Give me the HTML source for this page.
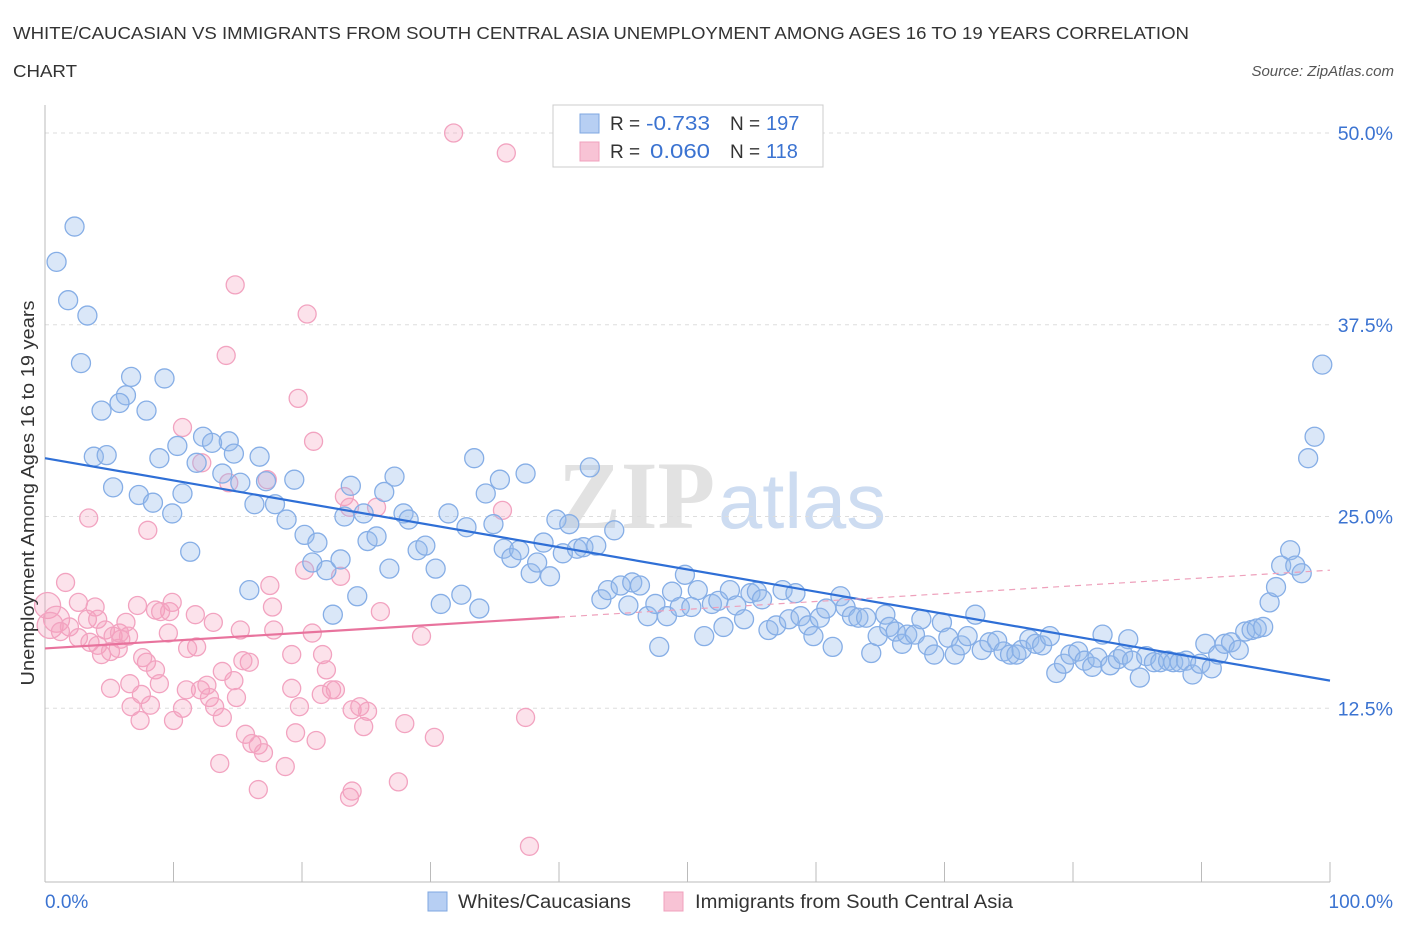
<!DOCTYPE html>
<html><head><meta charset="utf-8"><style>
body{margin:0;background:#fff;width:1406px;height:930px;overflow:hidden;font-family:"Liberation Sans",sans-serif}
svg{display:block}
</style></head><body>
<svg id="chart" width="1406" height="930" xmlns="http://www.w3.org/2000/svg">
<text x="13" y="39" font-size="17.5" fill="#333" textLength="1176" lengthAdjust="spacingAndGlyphs">WHITE/CAUCASIAN VS IMMIGRANTS FROM SOUTH CENTRAL ASIA UNEMPLOYMENT AMONG AGES 16 TO 19 YEARS CORRELATION</text>
<text x="13" y="77" font-size="17.5" fill="#333" textLength="64" lengthAdjust="spacingAndGlyphs">CHART</text>
<text x="1394" y="76" font-size="15" fill="#555" font-style="italic" text-anchor="end">Source: ZipAtlas.com</text>
<g>
<text x="558" y="528" font-size="96" fill="#e2e2e2" font-family="Liberation Serif,serif" font-weight="bold" textLength="157" lengthAdjust="spacingAndGlyphs">ZIP</text>
<text x="718" y="528" font-size="78" fill="#cddcf1" textLength="168" lengthAdjust="spacingAndGlyphs">atlas</text>
</g>
<g id="grid"></g>
<g id="axes"></g>
<g id="pinkPts"></g>
<g id="bluePts"></g>
<g id="lines"></g>
<g>
<rect x="553" y="105" width="270" height="62" fill="#fff" stroke="#ccc"/>
<rect x="580" y="114" width="19" height="19" fill="#b7cff3" stroke="#7fa7e0"/>
<rect x="580" y="142" width="19" height="19" fill="#f8c3d5" stroke="#f0a0bd"/>
<text x="610" y="130" font-size="19" fill="#333">R =</text>
<text x="646" y="130" font-size="20" fill="#3b73d1" textLength="64" lengthAdjust="spacingAndGlyphs">-0.733</text>
<text x="730" y="130" font-size="19" fill="#333">N =</text>
<text x="766" y="130" font-size="20" fill="#3b73d1">197</text>
<text x="610" y="158" font-size="19" fill="#333">R =</text>
<text x="650" y="158" font-size="20" fill="#3b73d1" textLength="60" lengthAdjust="spacingAndGlyphs">0.060</text>
<text x="730" y="158" font-size="19" fill="#333">N =</text>
<text x="766" y="158" font-size="20" fill="#3b73d1">118</text>
</g>
<g>
<rect x="428" y="892" width="19" height="19" fill="#b7cff3" stroke="#7fa7e0"/>
<text x="458" y="908" font-size="19" fill="#333" textLength="173" lengthAdjust="spacingAndGlyphs">Whites/Caucasians</text>
<rect x="664" y="892" width="19" height="19" fill="#f8c3d5" stroke="#f0a0bd"/>
<text x="695" y="908" font-size="19" fill="#333" textLength="318" lengthAdjust="spacingAndGlyphs">Immigrants from South Central Asia</text>
</g>
<text transform="translate(34,493) rotate(-90)" font-size="18" fill="#333" text-anchor="middle" textLength="385" lengthAdjust="spacingAndGlyphs">Unemployment Among Ages 16 to 19 years</text>
<text x="45" y="908" font-size="19" fill="#3b73d1">0.0%</text>
<text x="1393" y="908" font-size="19" fill="#3b73d1" text-anchor="end">100.0%</text>
</svg>
<script>
const yTicks=[12.5,25,37.5,50];
const yTickLabels=["12.5%","25.0%","37.5%","50.0%"];
const blueX=[2.3,0.9,1.8,3.3,2.8,6.7,9.3,6.3,5.8,4.4,7.9,3.8,4.8,5.3,8.9,12.3,14.3,10.3,13.0,10.7,11.8,14.7,16.7,13.8,15.2,7.3,8.4,9.9,16.3,17.9,17.2,19.4,18.8,20.2,21.2,20.8,21.9,11.3,15.9,22.4,23.0,23.3,23.8,24.8,25.1,25.8,26.4,27.2,24.3,26.8,27.9,28.3,29.0,29.6,30.4,30.8,31.4,32.4,32.8,33.4,33.8,34.3,34.9,35.4,35.7,36.3,36.9,37.4,37.8,38.3,38.8,39.3,39.8,40.3,40.8,41.4,41.9,42.4,42.9,44.3,43.3,43.8,44.8,45.4,45.7,46.3,46.9,47.5,47.8,48.4,48.8,49.4,49.8,50.3,50.8,51.3,51.9,52.4,52.8,53.3,53.8,54.4,54.9,55.4,55.8,56.3,56.9,57.4,57.9,58.4,58.8,59.4,59.8,60.3,60.8,61.3,61.9,62.3,62.8,63.3,63.9,64.3,64.8,65.4,65.7,66.2,66.7,67.1,67.7,68.2,68.7,69.2,69.8,70.3,70.8,71.3,71.8,72.4,72.9,73.5,74.1,74.6,75.1,75.6,76.0,76.6,77.1,77.6,78.2,78.7,79.3,79.8,80.4,80.9,81.5,81.9,82.3,82.9,83.5,83.9,84.3,84.6,85.2,85.7,86.3,86.8,87.4,87.8,88.3,88.8,89.3,89.9,90.3,90.8,91.3,91.8,92.3,92.9,93.4,93.9,94.3,94.8,95.3,95.8,96.2,96.9,97.3,97.8,98.3,98.8,99.4];
const blueY=[43.9,41.6,39.1,38.1,35.0,34.1,34.0,32.9,32.4,31.9,31.9,28.9,29.0,26.9,28.8,30.2,29.9,29.6,29.8,26.5,28.5,29.1,28.9,27.8,27.2,26.4,25.9,25.2,25.8,25.8,27.3,27.4,24.8,23.8,23.3,22.0,21.5,22.7,20.2,18.6,22.2,25.0,27.0,25.2,23.4,23.7,26.6,27.6,19.8,21.6,25.2,24.8,22.8,23.1,21.6,19.3,25.2,19.9,24.3,28.8,19.0,26.5,24.5,27.4,22.9,22.3,22.8,27.8,21.3,22.0,23.3,21.1,24.8,22.6,24.5,22.9,23.0,28.2,23.1,24.1,19.6,20.2,20.5,19.2,20.7,20.5,18.5,19.3,16.5,18.5,20.1,19.1,21.2,19.1,20.2,17.2,19.3,19.5,17.8,20.2,19.2,18.3,20.0,20.1,19.6,17.6,17.9,20.2,18.3,20.0,18.5,17.9,17.2,18.4,19.0,16.5,19.8,19.1,18.5,18.4,18.4,16.1,17.2,18.6,17.8,17.5,16.7,17.3,17.3,18.3,16.6,16.0,18.1,17.1,16.0,16.6,17.2,18.6,16.3,16.8,16.9,16.2,16.0,16.0,16.3,17.0,16.7,16.6,17.2,14.8,15.4,16.0,16.2,15.6,15.2,15.8,17.3,15.3,15.7,16.0,17.0,15.6,14.5,15.9,15.5,15.5,15.6,15.5,15.5,15.6,14.7,15.4,16.7,15.1,16.0,16.7,16.8,16.3,17.5,17.6,17.7,17.8,19.4,20.4,21.8,22.8,21.8,21.3,28.8,30.2,34.9];
const pinkX=[31.8,35.9,14.8,20.4,14.1,19.7,10.7,20.9,12.2,14.3,17.3,3.4,8.0,1.6,0.2,2.6,0.9,0.4,1.9,1.2,3.3,4.1,4.7,5.3,5.9,6.5,2.6,3.5,4.1,4.4,5.1,5.7,7.2,8.6,9.7,9.9,11.7,13.1,9.6,11.8,15.2,17.5,17.7,17.8,15.9,19.2,20.2,20.8,21.6,23.0,23.3,23.7,25.8,26.1,29.3,35.6,7.9,8.6,8.9,6.6,5.1,7.5,8.2,6.7,7.4,10.0,10.7,11.0,12.1,12.8,13.2,12.6,13.8,14.9,14.7,15.6,16.1,16.6,17.0,18.7,19.5,21.1,19.8,21.5,21.9,22.3,22.6,23.9,24.5,24.8,25.1,28.0,30.3,13.6,23.7,23.9,16.6,27.5,37.7,37.4,19.2,13.8,11.1,7.6,9.0,3.9,5.8,15.4,6.3];
const pinkY=[50.0,48.7,40.1,38.2,35.5,32.7,30.8,29.9,28.5,27.2,27.4,24.9,24.1,20.7,19.2,19.4,18.3,17.9,17.8,17.5,18.3,18.3,17.6,17.2,17.0,17.2,17.1,16.8,16.6,16.0,16.2,16.4,19.2,18.9,18.8,19.4,18.6,18.1,17.4,16.5,17.6,20.5,19.1,17.6,15.5,16.0,21.5,17.4,16.0,21.1,26.3,25.6,25.6,18.8,17.2,25.4,15.5,15.0,14.1,14.1,13.8,13.4,12.7,12.6,11.7,11.7,12.5,13.7,13.7,13.2,12.6,14.0,11.9,13.2,14.3,10.8,10.2,10.1,9.6,8.7,10.9,10.4,12.6,13.4,15.0,13.7,13.7,12.4,12.6,11.3,12.3,11.5,10.6,8.9,6.7,7.1,7.2,7.7,3.5,11.9,13.8,14.9,16.4,15.8,18.8,19.1,17.4,15.6,18.1];
const blueTrend=[28.8,14.3];
const pinkTrend=[16.4,21.5];
const pinkSolidEnd=40;

const NS="http://www.w3.org/2000/svg";
const X0=45,X1=1330,YZ=900,YPX=15.34;
const sx=v=>X0+(X1-X0)*v/100;
const sy=v=>YZ-v*YPX;
function mk(tag,attrs,parent){const e=document.createElementNS(NS,tag);for(const k in attrs)e.setAttribute(k,attrs[k]);parent.appendChild(e);return e;}
const grid=document.getElementById('grid'),axes=document.getElementById('axes');
yTicks.forEach((t,i)=>{
  const l=mk('line',{x1:45,x2:1330,y1:sy(t),y2:sy(t),stroke:'#ddd','stroke-dasharray':'4,4'},grid);
  
  
  const tx=mk('text',{x:1393,y:sy(t)+7,'font-size':19.5,fill:'#3b73d1','text-anchor':'end'},axes);
  tx.textContent=yTickLabels[i];
  
  
});
const xa=mk('line',{x1:45,x2:1330,y1:882,y2:882,stroke:'#bbb'},axes);


const ya=mk('line',{x1:45,x2:45,y1:105,y2:882,stroke:'#bbb'},axes);


for(let i=0;i<=10;i++){
  const t=mk('line',{x1:sx(i*10),x2:sx(i*10),y1:862,y2:882,stroke:'#bbb'},axes);
  
  
}
const pg=document.getElementById('pinkPts');
pinkX.forEach((x,i)=>{
  const c=mk('circle',{cx:sx(x),cy:sy(pinkY[i]),r:x<1?13:9,fill:'rgba(245,160,190,0.3)',stroke:'#f2a3c0','stroke-width':1.3},pg);
  
  
});
const bg=document.getElementById('bluePts');
blueX.forEach((x,i)=>{
  const c=mk('circle',{cx:sx(x),cy:sy(blueY[i]),r:9.5,fill:'rgba(150,185,235,0.35)',stroke:'#86aee6','stroke-width':1.3},bg);
  
  
});
const lg=document.getElementById('lines');
const bl=mk('line',{x1:sx(0),y1:sy(blueTrend[0]),x2:sx(100),y2:sy(blueTrend[1]),stroke:'#2f6fd6','stroke-width':2.2},lg);


const pAt=x=>pinkTrend[0]+(pinkTrend[1]-pinkTrend[0])*x/100;
const pl=mk('line',{x1:sx(0),y1:sy(pAt(0)),x2:sx(pinkSolidEnd),y2:sy(pAt(pinkSolidEnd)),stroke:'#e8739d','stroke-width':2.2},lg);


const pd=mk('line',{x1:sx(pinkSolidEnd),y1:sy(pAt(pinkSolidEnd)),x2:sx(100),y2:sy(pAt(100)),stroke:'#eea0bb','stroke-width':1.2,'stroke-dasharray':'6,5'},lg);


</script>
</body></html>
